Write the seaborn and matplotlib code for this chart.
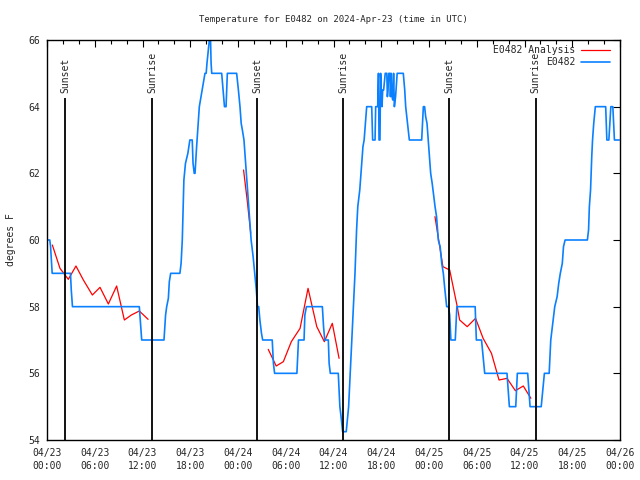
import pandas as pd
import matplotlib
matplotlib.use("Agg")
import matplotlib.pyplot as plt
import matplotlib.dates as mdates
import seaborn as sns

# ── DATA ──────────────────────────────────────────────────────────────────────
START = pd.Timestamp("2024-04-23 00:00")

# station observations (hours after START, deg F)
OBS_HOURS = [
    0.0, 0.35, 0.45, 0.65, 2.95, 3.05, 3.2, 11.6, 11.75, 11.9,
    14.7, 14.9, 15.04, 15.25, 15.37, 15.54, 16.7, 16.85, 17.0, 17.1,
    17.2, 17.4, 17.7, 17.95, 18.25, 18.35, 18.5, 18.6, 18.8, 19.0,
    19.14, 19.5, 19.85, 20.0, 20.1, 20.4, 20.55, 20.62, 20.7, 21.95,
    22.3, 22.5, 22.66, 23.83, 24.05, 24.25, 24.4, 24.55, 24.75, 24.9,
    25.05, 25.35, 25.5, 25.65, 25.9, 26.1, 26.3, 26.45, 26.6, 26.75,
    26.95, 27.1, 28.3, 28.45, 28.6, 31.4, 31.6, 32.3, 32.4, 32.6,
    34.6, 34.75, 34.9, 35.35, 35.45, 35.6, 36.6, 36.7, 36.8, 36.95,
    37.15, 37.6, 37.9, 38.1, 38.3, 38.5, 38.7, 38.9, 39.05, 39.3,
    39.45, 39.7, 39.85, 40.17, 40.8, 40.92, 41.22, 41.3, 41.55, 41.65,
    41.72, 41.84, 41.92, 42.0, 42.1, 42.18, 42.3, 42.5, 42.7, 42.77,
    42.85, 42.95, 43.1, 43.15, 43.25, 43.35, 43.45, 43.55, 43.65, 43.8,
    44.0, 44.77, 44.95, 45.07, 45.3, 45.53, 47.08, 47.29, 47.45, 47.58,
    47.75, 47.9, 48.05, 48.21, 48.4, 48.76, 48.95, 49.17, 49.4, 49.6,
    49.8, 50.0, 50.22, 50.45, 50.6, 50.75, 50.85, 51.3, 51.5, 53.8,
    53.95, 54.6, 54.8, 55.0, 57.8, 57.95, 58.1, 58.9, 59.1, 60.4,
    60.55, 60.7, 62.1, 62.3, 62.5, 63.1, 63.2, 63.3, 63.55, 63.8,
    64.1, 64.3, 64.5, 64.75, 64.9, 65.1, 67.9, 68.05, 68.15, 68.3,
    68.45, 68.55, 68.7, 68.9, 70.2, 70.35, 70.6, 70.85, 71.1, 71.3,
    71.9,
]
OBS_TEMP = [
    60.0, 60.0, 59.8, 59.0, 59.0, 58.5, 58.0, 58.0, 57.5, 57.0,
    57.0, 57.75, 58.0, 58.25, 58.75, 59.0, 59.0, 59.3, 60.0, 60.9,
    61.8, 62.3, 62.6, 63.0, 63.0, 62.3, 62.0, 62.0, 62.8, 63.5,
    64.0, 64.5, 65.0, 65.0, 65.3, 66.0, 66.0, 65.3, 65.0, 65.0,
    64.0, 64.0, 65.0, 65.0, 64.5, 64.0, 63.5, 63.3, 63.0, 62.5,
    62.0, 61.0, 60.5, 60.0, 59.5, 59.0, 58.5, 58.0, 58.0, 57.6,
    57.2, 57.0, 57.0, 56.3, 56.0, 56.0, 57.0, 57.0, 57.75, 58.0,
    58.0, 57.4, 57.0, 57.0, 56.3, 56.0, 56.0, 55.5, 55.0, 54.7,
    54.25, 54.25, 55.0, 56.0, 57.0, 58.0, 59.0, 60.3, 61.0, 61.5,
    62.0, 62.8, 63.0, 64.0, 64.0, 63.0, 63.0, 64.0, 64.0, 65.0,
    63.0, 63.0, 65.0, 64.5, 64.0, 64.5, 64.5, 65.0, 65.0, 64.3,
    64.5, 65.0, 65.0, 64.3, 65.0, 64.3, 64.2, 65.0, 64.0, 64.3,
    65.0, 65.0, 64.5, 64.0, 63.5, 63.0, 63.0, 64.0, 64.0, 63.7,
    63.5, 63.0, 62.5, 62.0, 61.7, 61.0, 60.7, 60.0, 59.8, 59.3,
    59.0, 58.5, 58.0, 58.0, 57.75, 57.0, 57.0, 57.0, 58.0, 58.0,
    57.0, 57.0, 56.5, 56.0, 56.0, 55.5, 55.0, 55.0, 56.0, 56.0,
    55.5, 55.0, 55.0, 55.5, 56.0, 56.0, 56.5, 57.0, 57.5, 58.0,
    58.3, 58.7, 59.0, 59.3, 59.8, 60.0, 60.0, 60.3, 61.0, 61.5,
    62.5, 63.0, 63.5, 64.0, 64.0, 63.0, 63.0, 64.0, 64.0, 63.0,
    63.0,
]

# analysis values, drawn as separate segments
ANA_HOURS = [
    0.67, 1.63, 2.68, 3.64, 4.57, 5.7, 6.66, 7.71, 8.75, 9.72, 10.6, 11.6, 12.7,
    24.7, 25.15, 25.6,
    27.8, 28.8, 29.7, 30.7, 31.8, 32.8, 33.9, 34.85, 35.85, 36.7,
    48.75, 49.75, 50.6, 51.55, 51.85, 52.8, 53.85, 54.8, 55.85, 56.8, 57.8,
    58.85, 59.85, 60.8,
]
ANA_TEMP = [
    59.85, 59.15, 58.82, 59.22, 58.8, 58.35, 58.58, 58.08, 58.62, 57.6, 57.75, 57.87, 57.62,
    62.1, 61.2, 60.2,
    56.72, 56.22, 56.35, 56.95, 57.35, 58.55, 57.4, 56.95, 57.5, 56.45,
    60.7, 59.2, 59.1, 58.0, 57.6, 57.4, 57.65, 57.05, 56.6, 55.8, 55.85,
    55.48, 55.62, 55.25,
]
ANA_SEG = [0] * 13 + [1] * 3 + [2] * 10 + [3] * 14

SUN_HOURS = [2.26, 13.24, 26.43, 37.24, 50.56, 61.4]
SUN_LABELS = ["Sunset", "Sunrise", "Sunset", "Sunrise", "Sunset", "Sunrise"]

obs = pd.DataFrame({"time": START + pd.to_timedelta(OBS_HOURS, unit="h"),
                    "temp": OBS_TEMP})
ana = pd.DataFrame({"time": START + pd.to_timedelta(ANA_HOURS, unit="h"),
                    "temp": ANA_TEMP, "seg": ANA_SEG})
sun = START + pd.to_timedelta(SUN_HOURS, unit="h")

# ── STYLE ─────────────────────────────────────────────────────────────────────
sns.set_style("white")
plt.rcParams["font.family"] = ["DejaVu Sans Mono"]
RED = "#ff0000"
BLUE = "#0a80ff"
FS = 7

fig = plt.figure(figsize=(6.4, 4.8), dpi=100)
ax = fig.add_axes([47 / 640, 40 / 480, 573 / 640, 400 / 480])

sns.lineplot(data=ana, x="time", y="temp", units="seg", estimator=None,
             color=RED, lw=0.9, label="E0482 Analysis", ax=ax)
sns.lineplot(data=obs, x="time", y="temp", estimator=None, sort=False,
             color=BLUE, lw=1.2, label="E0482", ax=ax)

ax.vlines(sun, 54, 64.25, color="black", lw=1.3)
for t, lab in zip(sun, SUN_LABELS):
    ax.text(t, 64.4, lab, rotation=90, ha="center", va="bottom", fontsize=FS)

ax.set_xlim(START, START + pd.Timedelta(hours=72))
ax.set_ylim(54, 66)
ax.set_yticks(range(54, 67, 2))
ax.xaxis.set_major_locator(mdates.HourLocator(byhour=range(0, 24, 6)))
ax.xaxis.set_minor_locator(mdates.HourLocator(byhour=range(0, 24, 2)))
ax.xaxis.set_major_formatter(mdates.DateFormatter("%m/%d\n%H:%M"))
ax.tick_params(which="both", direction="in", top=True, right=True,
               labelsize=FS, width=0.8, color="black")
ax.tick_params(which="major", length=5)
ax.tick_params(which="minor", length=3)
ax.tick_params(axis="x", pad=6)
ax.tick_params(axis="y", pad=5)
for lbl in ax.get_xticklabels():
    lbl.set_linespacing(1.35)
for s in ax.spines.values():
    s.set_color("black")
    s.set_linewidth(1.0)

ax.set_xlabel("")
ax.set_ylabel("degrees F", fontsize=FS, labelpad=9)
ax.set_title("Temperature for E0482 on 2024-Apr-23 (time in UTC)",
             fontsize=6.5, pad=13)

handles, labels = ax.get_legend_handles_labels()
uniq = dict(zip(labels, handles))
ax.legend(uniq.values(), uniq.keys(), loc="upper right",
          bbox_to_anchor=(0.9895, 0.997), borderaxespad=0, frameon=False,
          markerfirst=False, fontsize=FS, handlelength=3.0,
          handletextpad=0.6, labelspacing=0.2)

fig.savefig("out.png", dpi=100)
